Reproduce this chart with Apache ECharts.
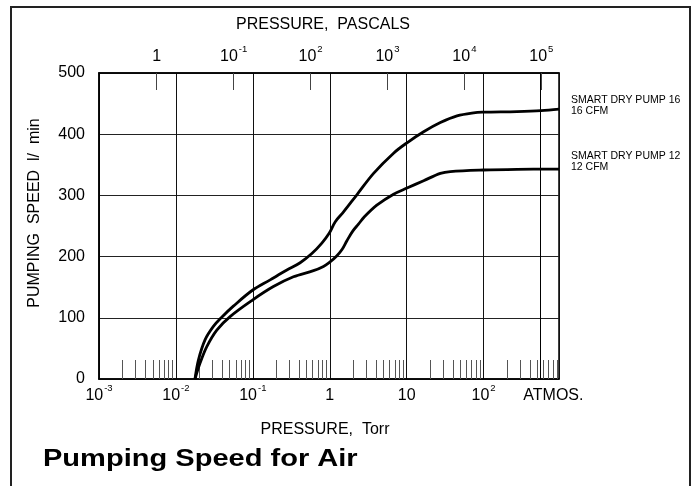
<!DOCTYPE html>
<html><head><meta charset="utf-8">
<script src="https://cdn.jsdelivr.net/npm/echarts@6/dist/echarts.min.js"></script>
<style>html,body{margin:0;padding:0;background:#fff}#c{width:696px;height:486px}</style>
</head><body><div id="c"></div>
<script>
// ---- data (pressure in Torr, pumping speed in l/min) ----
const seriesNames = ['SMART DRY PUMP 16', 'SMART DRY PUMP 12'];
const seriesSubNames = ['16 CFM', '12 CFM'];
const pump16Pressure = [0.0177, 0.0196, 0.0239, 0.0307, 0.0394, 0.0558, 0.0989, 0.168, 0.277, 0.412, 0.585, 0.789, 0.982, 1.18, 1.51, 2.25, 3.71, 6.75, 10.1, 16.6, 27.4, 45.1, 74.1, 100, 272, 558, 955];
const pump16Speed    = [0, 31, 64, 86, 101, 119, 145, 162, 178, 190, 205, 222, 238, 257, 273, 301, 336, 369, 386, 404, 419, 430, 435, 436, 437, 438.5, 441];
const pump12Pressure = [0.0177, 0.0206, 0.0252, 0.0340, 0.0506, 0.0989, 0.185, 0.337, 0.614, 0.828, 0.982, 1.23, 1.45, 1.67, 2.0, 2.36, 2.82, 4.09, 6.75, 10.1, 16.6, 27.4, 36.9, 100, 272, 955];
const pump12Speed    = [0, 26, 53, 80, 102, 129, 151, 167, 177, 184, 190, 201, 212, 226, 242, 253, 265, 284, 302, 312, 324, 336, 339, 341.5, 342.6, 343];

// ---- axes ----
const torrMin = 0.001, torrMax = 955;
const torrTickPressures = [0.001, 0.01, 0.1, 1, 10, 100];
const torrTickLabels = ['10^-3', '10^-2', '10^-1', '1', '10', '10^2'];
const atmosLinePressure = 545;
const atmosLabelPressure = 807;
const atmosLabel = 'ATMOS.';
const pascalPerTorrAsDrawn = 177.8;
const pascalTickValues = [1, 10, 100, 1000, 10000, 100000];
const pascalTickLabels = ['1', '10^-1', '10^2', '10^3', '10^4', '10^5'];
const speedMin = 0, speedMax = 500, speedStep = 100;

const FONT = '"Liberation Sans", Arial, sans-serif';
const lg = Math.log10;
const xMin = lg(torrMin), xMax = lg(torrMax);
const pMin = lg(torrMin * pascalPerTorrAsDrawn), pMax = lg(torrMax * pascalPerTorrAsDrawn);

// minor tick positions (2..9 within each decade)
const minorTicks = [];
for (let d = -3; d <= 2; d++) for (let k = 2; k <= 9; k++) {
  const v = lg(k * Math.pow(10, d));
  if (v < xMax) minorTicks.push(v);
}
function sup(s) {
  const m = s.split('^');
  return m.length > 1 ? '{n|' + m[0] + '}{s|' + m[1] + '}' : '{n|' + s + '}';
}
function nearestLabel(v, vals, labels) {
  let bi = 0, bd = Infinity;
  vals.forEach((x, i) => { const d = Math.abs(x - v); if (d < bd) { bd = d; bi = i; } });
  return labels[bi];
}
const bottomLabelVals = torrTickPressures.map(lg).concat([lg(atmosLabelPressure)]);
const bottomLabelTexts = torrTickLabels.map(sup).concat(['{n|' + atmosLabel + '}']);
const topLabelVals = pascalTickValues.map(lg);
const topLabelTexts = pascalTickLabels.map(sup);
const rich = {
  n: { fontSize: 16, fontFamily: FONT, color: '#000', lineHeight: 21, verticalAlign: 'bottom' },
  s: { fontSize: 9.5, fontFamily: FONT, color: '#000', verticalAlign: 'top', padding: [0, 0, 0, 1] }
};

const chart = echarts.init(document.getElementById('c'), null, { renderer: 'canvas' });
chart.setOption({
  animation: false,
  backgroundColor: '#fff',
  textStyle: { fontFamily: FONT },
  grid: { left: 99, right: 137, top: 73, bottom: 107, show: true, borderColor: '#000', borderWidth: 1.5 },
  xAxis: [
    {
      type: 'value', position: 'bottom', min: xMin, max: xMax, interval: 1,
      axisLine: { show: true, onZero: false, lineStyle: { color: '#000', width: 1.5 } },
      axisTick: { show: false },
      splitLine: { show: true, lineStyle: { color: '#111', width: 1 } },
      axisLabel: {
        customValues: bottomLabelVals, margin: 4,
        formatter: v => nearestLabel(v, bottomLabelVals, bottomLabelTexts), rich: rich
      },
      name: 'PRESSURE,  Torr', nameLocation: 'middle', nameGap: 43,
      nameTextStyle: { fontSize: 16, color: '#000', padding: [0, 8, 0, 0] }
    },
    {
      type: 'value', position: 'bottom', min: xMin, max: xMax,
      axisLine: { show: false, onZero: false }, axisLabel: { show: false }, splitLine: { show: false },
      axisTick: { show: true, customValues: minorTicks, inside: true, length: 19, lineStyle: { color: '#555', width: 1 } }
    },
    {
      type: 'value', position: 'top', min: pMin, max: pMax,
      axisLine: { show: true, onZero: false, lineStyle: { color: '#000', width: 1.5 } },
      splitLine: { show: false },
      axisTick: { show: true, customValues: topLabelVals, inside: true, length: 17, lineStyle: { color: '#444', width: 1 } },
      axisLabel: {
        customValues: topLabelVals, margin: 8,
        formatter: v => nearestLabel(v, topLabelVals, topLabelTexts), rich: rich
      },
      name: 'PRESSURE,  PASCALS', nameLocation: 'middle', nameGap: 40,
      nameTextStyle: { fontSize: 16, color: '#000', padding: [0, 12, 0, 0] }
    }
  ],
  yAxis: {
    type: 'value', min: speedMin, max: speedMax, interval: speedStep,
    axisLine: { show: true, onZero: false, lineStyle: { color: '#000', width: 1.5 } },
    axisTick: { show: false },
    splitLine: { show: true, lineStyle: { color: '#222', width: 1 } },
    axisLabel: { fontSize: 16, color: '#000', margin: 14 },
    name: 'PUMPING  SPEED  l/  min', nameLocation: 'middle', nameGap: 56,
    nameTextStyle: { fontSize: 16, color: '#000', padding: [0, 0, 0, 26] }
  },
  series: [
    {
      type: 'line', name: seriesNames[0], xAxisIndex: 0, yAxisIndex: 0,
      data: pump16Pressure.map((p, i) => [lg(p), pump16Speed[i]]),
      showSymbol: false, smooth: 0.35,
      lineStyle: { color: '#000', width: 2.8 },
      endLabel: { show: true, formatter: seriesNames[0] + '\n' + seriesSubNames[0], distance: 12, offset: [0, -3],
        fontSize: 10.5, lineHeight: 11, color: '#000', fontFamily: FONT },
      markLine: {
        silent: true, symbol: ['none', 'none'], label: { show: false },
        lineStyle: { type: 'solid', color: '#000', width: 1 },
        data: [{ xAxis: lg(atmosLinePressure) }]
      }
    },
    {
      type: 'line', name: seriesNames[1], xAxisIndex: 0, yAxisIndex: 0,
      data: pump12Pressure.map((p, i) => [lg(p), pump12Speed[i]]),
      showSymbol: false, smooth: 0.35,
      lineStyle: { color: '#000', width: 2.8 },
      endLabel: { show: true, formatter: seriesNames[1] + '\n' + seriesSubNames[1], distance: 12, offset: [0, -7],
        fontSize: 10.5, lineHeight: 11, color: '#000', fontFamily: FONT }
    }
  ],
  graphic: [
    { type: 'rect', silent: true, shape: { x: 11, y: 7, width: 679, height: 500 },
      style: { fill: 'none', stroke: '#222', lineWidth: 2 } },
    { type: 'text', silent: true, x: 43, y: 447, scaleX: 1.21,
      style: { text: 'Pumping Speed for Air', font: 'bold 24px "Liberation Sans", Arial, sans-serif', fill: '#000', verticalAlign: 'top' } }
  ]
});
</script></body></html>
